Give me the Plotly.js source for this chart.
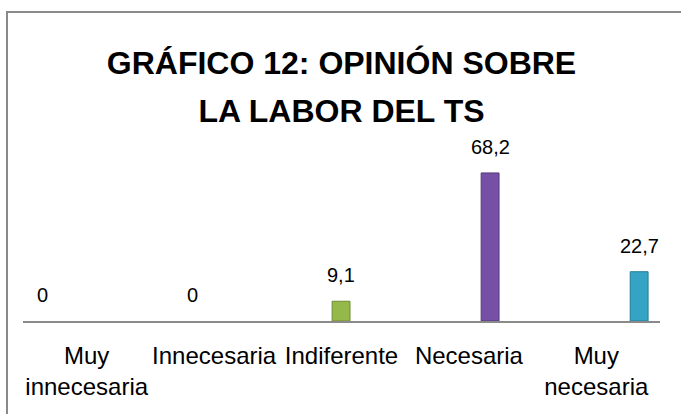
<!DOCTYPE html>
<html>
<head>
<meta charset="utf-8">
<script src="https://cdn.plot.ly/plotly-3.0.1.min.js"></script>
<style>
  html, body { margin: 0; padding: 0; background: #fff; overflow: hidden; }
  #wrap { position: relative; width: 681px; height: 414px; }
  #chart { width: 681px; height: 414px; }
  #frame { position: absolute; left: 6px; top: 11px; width: 720px; height: 460px;
           border-left: 2px solid #8a8a8a; border-top: 2px solid #8a8a8a; pointer-events: none; }
</style>
</head>
<body>
<div id="wrap">
  <div id="chart"></div>
  <div id="frame"></div>
</div>
<script>
// ---- data ----
const categories = ["Muy innecesaria", "Innecesaria", "Indiferente", "Necesaria", "Muy necesaria"];
const tickLabels = ["Muy<br>innecesaria", "Innecesaria", "Indiferente", "Necesaria", "Muy<br>necesaria"];
const values = [0, 0, 9.1, 68.2, 22.7];
const barColors = ["#4F81BD", "#C0504D", "#94B84A", "#7550A5", "#35A4C4"];
const barLines = ["#3A6390", "#903C39", "#6F8C33", "#553A7A", "#247C95"];
const titleLines = ["GRÁFICO 12: OPINIÓN SOBRE", "LA LABOR DEL TS"];

const fmt = v => String(v).replace('.', ',');

const bars = {
  type: 'bar',
  x: categories,
  y: values,
  xaxis: 'x2',
  yaxis: 'y',
  width: 0.12,
  marker: { color: barColors, line: { color: barLines, width: values.map(v => v ? 1 : 0) } },
  hoverinfo: 'skip',
  showlegend: false
};

const labelAxisTrace = {
  type: 'scatter',
  mode: 'markers',
  x: categories,
  y: values.map(() => 0),
  xaxis: 'x',
  yaxis: 'y',
  marker: { opacity: 0, size: 1 },
  hoverinfo: 'skip',
  showlegend: false
};

const annotations = categories.map((c, i) => ({
  x: c, y: values[i], xref: 'x2', yref: 'y',
  text: fmt(values[i]), showarrow: false,
  yanchor: 'bottom', xanchor: 'center', yshift: 13,
  font: { family: 'Liberation Sans, Arial, sans-serif', size: 20, color: '#000' }
}));

const layout = {
  width: 681, height: 414,
  margin: { l: 23, r: 21, t: 100, b: 93, pad: 0 },
  paper_bgcolor: '#fff', plot_bgcolor: 'rgba(0,0,0,0)',
  title: {
    text: titleLines.map(t => '<span style="font-size:32px">' + t + '</span>').join('<br>'),
    font: { family: 'Liberation Sans, Arial, sans-serif', size: 37, color: '#000', weight: 'bold' },
    x: 0.5, xanchor: 'center', xref: 'paper',
    y: 0.822, yanchor: 'top', yref: 'container'
  },
  xaxis: {
    type: 'category',
    categoryarray: categories,
    tickvals: categories,
    ticktext: tickLabels,
    range: [-0.5, 4.5],
    showline: true, linecolor: '#8a8a8a', linewidth: 2,
    showgrid: false, zeroline: false, ticks: '',
    ticklabelstandoff: 12,
    tickfont: { family: 'Liberation Sans, Arial, sans-serif', size: 24, color: '#000' },
    tickangle: 0,
    fixedrange: true
  },
  xaxis2: {
    type: 'category',
    categoryarray: categories,
    overlaying: 'x',
    range: [-0.134, 4.14],
    visible: false,
    fixedrange: true
  },
  yaxis: {
    range: [0, 101.8],
    visible: false, showgrid: false, zeroline: false,
    fixedrange: true
  },
  annotations: annotations,
  showlegend: false
};

Plotly.newPlot('chart', [labelAxisTrace, bars], layout, { displayModeBar: false, staticPlot: true });
</script>
</body>
</html>
